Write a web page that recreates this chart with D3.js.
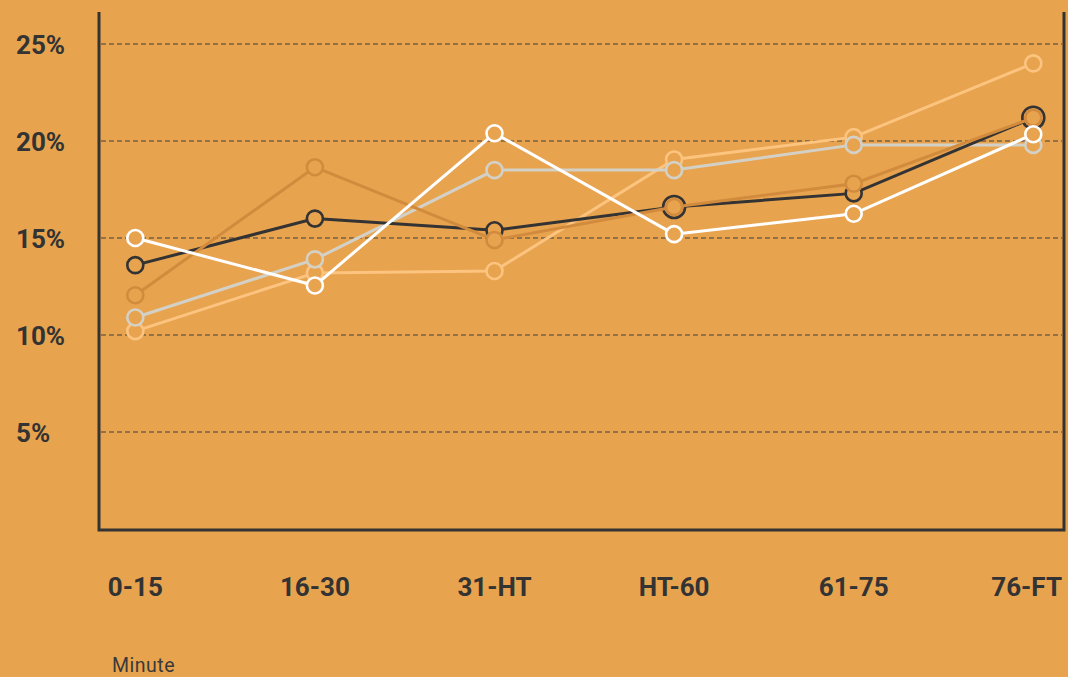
<!DOCTYPE html>
<html>
<head>
<meta charset="utf-8">
<script src="https://cdn.jsdelivr.net/npm/d3@7"></script>
<style>
  html, body { margin: 0; padding: 0; background: #E8A34F; }
  svg { display: block; }
</style>
</head>
<body>
<svg id="chart" width="1068" height="677"></svg>
<script>
// ---- data ----
const categories = ["0-15", "16-30", "31-HT", "HT-60", "61-75", "76-FT"];
const yTicks = [5, 10, 15, 20, 25];
const yTickLabels = ["5%", "10%", "15%", "20%", "25%"];
const xAxisTitle = "Minute";

const seriesPeach = [10.2, 13.2, 13.3, 19.05, 20.2, 24.0];
const seriesGray  = [10.9, 13.9, 18.5, 18.5, 19.8, 19.8];
const seriesDark  = [13.6, 16.0, 15.4, 16.6, 17.3, 21.2];
const seriesBrown = [12.05, 18.65, 14.9, 16.6, 17.8, 21.2];
const seriesWhite = [15.0, 12.55, 20.4, 15.2, 16.25, 20.35];
const highlightedDark = ["HT-60", "76-FT"];

(function () {
  const svg = d3.select("#chart");
  const bg = "#E8A34F";
  const ink = "#333333";
  const mLeft = 99, mRight = 1064, mTop = 12, mBottom = 530;

  const x = d3.scalePoint().domain(categories).range([135.3, 1033.3]);
  const y = d3.scaleLinear().domain([0, 25]).range([529, 44]);

  svg.append("rect").attr("width", 1068).attr("height", 677).attr("fill", bg);

  // gridlines
  svg.append("g").selectAll("line").data(yTicks).join("line")
    .attr("x1", mLeft + 2).attr("x2", mRight - 2)
    .attr("y1", d => y(d)).attr("y2", d => y(d))
    .attr("stroke", "#3e3e3e").attr("stroke-width", 1)
    .attr("stroke-dasharray", "5,3");

  // frame (left, bottom, right)
  svg.append("path")
    .attr("d", `M${mLeft},${mTop}V${mBottom}H${mRight}V${mTop}`)
    .attr("fill", "none").attr("stroke", ink).attr("stroke-width", 3);

  // y labels
  svg.append("g").selectAll("text").data(yTicks).join("text")
    .attr("x", 16).attr("y", d => y(d) + 1)
    .attr("dominant-baseline", "central")
    .attr("font-family", "Roboto, 'DejaVu Sans', sans-serif")
    .attr("font-weight", 700).attr("font-size", 26)
    .attr("fill", ink)
    .text((d, i) => yTickLabels[i]);

  // x labels
  svg.append("g").selectAll("text").data(categories).join("text")
    .attr("x", (d, i) => i === categories.length - 1 ? 1062 : x(d))
    .attr("y", 596)
    .attr("text-anchor", (d, i) => i === categories.length - 1 ? "end" : "middle")
    .attr("font-family", "Roboto, 'DejaVu Sans', sans-serif")
    .attr("font-weight", 700).attr("font-size", 26)
    .attr("fill", ink)
    .text(d => d);

  svg.append("text")
    .attr("x", 112).attr("y", 672)
    .attr("font-family", "Roboto, 'DejaVu Sans', sans-serif")
    .attr("font-size", 19.5).attr("letter-spacing", 0.5)
    .attr("fill", "#3a3a3a")
    .text(xAxisTitle);

  // series
  const series = [
    { values: seriesPeach, color: "#FCC47F" },
    { values: seriesGray,  color: "#D3D1C7" },
    { values: seriesDark,  color: "#333333", big: highlightedDark },
    { values: seriesBrown, color: "#D28B3C" },
    { values: seriesWhite, color: "#FFFFFF" }
  ];

  const line = d3.line().x(d => x(d.c)).y(d => y(d.v));

  series.forEach(s => {
    const pts = s.values.map((v, i) => ({ c: categories[i], v }));
    const g = svg.append("g");
    g.append("path").datum(pts)
      .attr("d", line)
      .attr("fill", "none").attr("stroke", s.color).attr("stroke-width", 3);
    g.selectAll("circle").data(pts).join("circle")
      .attr("cx", d => x(d.c)).attr("cy", d => y(d.v))
      .attr("r", d => (s.big && s.big.includes(d.c)) ? 11 : 8)
      .attr("fill", bg)
      .attr("stroke", s.color).attr("stroke-width", 2.6);
  });
})();
</script>
</body>
</html>
